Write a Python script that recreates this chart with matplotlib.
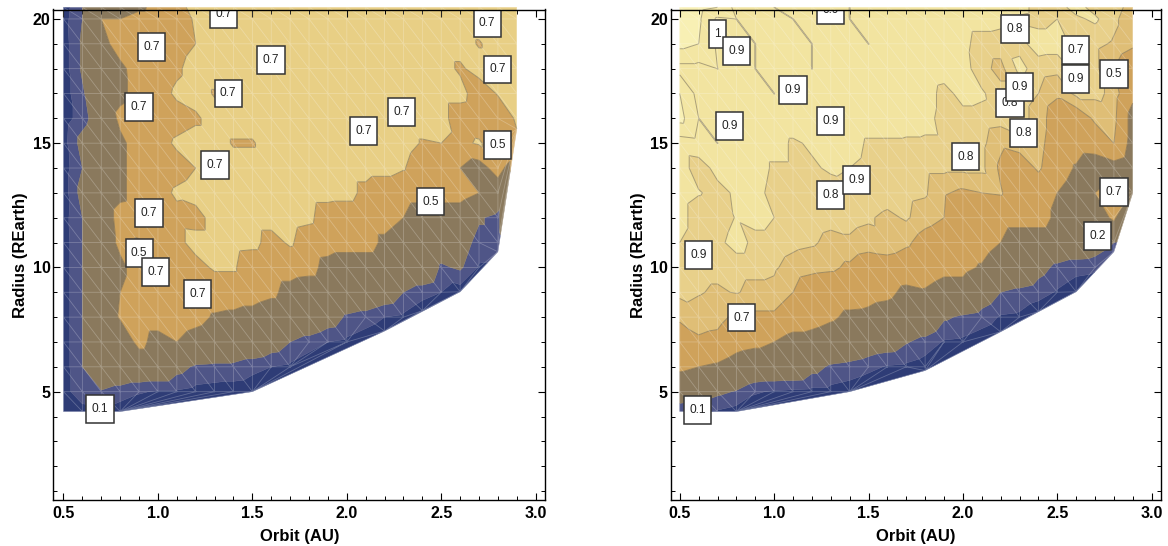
import matplotlib
matplotlib.use('Agg')
import matplotlib.pyplot as plt
import matplotlib.tri as mtri
from matplotlib.path import Path
import numpy as np

plt.rcParams['font.family'] = ['Liberation Sans', 'DejaVu Sans']

N = None

orbit = [0.5, 0.6, 0.7, 0.8, 0.9, 1.0, 1.1, 1.2, 1.3, 1.4, 1.5, 1.6, 1.7,
         1.8, 1.9, 2.0, 2.1, 2.2, 2.3, 2.4, 2.5, 2.6, 2.7, 2.8, 2.9]
radius = [20.47, 20, 19, 18, 17, 16, 15, 14, 13, 12, 11, 10, 9, 8, 7, 6, 5, 4.2]

# left panel, one row per radius
z_left = [
    [.05, .2, .35, .35, .45, .58, .65, .75, .75, .75, .75, .75, .75, .75, .75, .75, .75, .75, .75, .75, .75, .75, .75, .75, .75],
    [.06, .2, .5, .5, .6, .6, .62, .72, .75, .75, .75, .75, .75, .75, .75, .75, .75, .75, .75, .75, .75, .75, .75, .75, .75],
    [.05, .22, .42, .6, .6, .62, .65, .7, .75, .75, .75, .75, .75, .75, .75, .75, .75, .75, .75, .75, .75, .75, .69, .75, .75],
    [.05, .22, .35, .45, .6, .63, .68, .75, .75, .75, .75, .75, .75, .75, .75, .75, .75, .75, .75, .75, .75, .68, .75, .75, .75],
    [.05, .18, .35, .45, .58, .65, .72, .75, .69, .75, .75, .75, .75, .75, .75, .75, .75, .75, .75, .75, .75, .75, .62, .71, .75],
    [.05, .15, .3, .55, .6, .62, .65, .68, .75, .75, .75, .75, .75, .75, .75, .75, .75, .75, .75, .75, .75, .62, .6, .6, .72],
    [.06, .25, .35, .45, .6, .65, .72, .75, .75, .69, .69, .75, .75, .75, .75, .75, .75, .75, .75, .69, .7, .66, .72, .6, N],
    [.05, .2, .35, .45, .6, .62, .65, .7, .75, .75, .75, .75, .75, .75, .75, .75, .75, .75, .71, .62, .6, .5, .4, .6, N],
    [.05, .25, .35, .45, .6, .65, .72, .75, .75, .75, .75, .75, .75, .75, .75, .75, .66, .6, .6, .6, .6, .6, .5, .35, N],
    [.06, .2, .35, .58, .6, .62, .66, .65, .75, .75, .75, .75, .75, .73, .62, .6, .6, .6, .5, .35, .35, .35, .22, .15, N],
    [.05, .2, .35, .55, .48, .6, .66, .75, .75, .75, .74, .65, .72, .62, .6, .6, .6, .45, .35, .35, .3, .28, .15, .15, N],
    [.05, .2, .35, .45, .6, .6, .65, .65, .72, .72, .6, .6, .6, .58, .42, .35, .35, .35, .35, .35, .18, .22, .09, N, N],
    [.05, .2, .35, .5, .6, .6, .6, .6, .6, .6, .6, .55, .42, .35, .35, .35, .35, .3, .2, .14, .1, N, N, N, N],
    [.05, .2, .35, .52, .6, .6, .6, .56, .48, .46, .42, .35, .35, .35, .28, .18, .15, .1, .08, N, N, N, N, N, N],
    [.05, .2, .35, .35, .56, .42, .5, .42, .38, .35, .35, .28, .2, .15, .1, .08, N, N, N, N, N, N, N, N, N],
    [.05, .2, .35, .35, .35, .35, .25, .18, .17, .17, .13, .1, .08, N, N, N, N, N, N, N, N, N, N, N, N],
    [.05, .18, .19, .15, .11, .09, .09, .07, .06, .05, .04, N, N, N, N, N, N, N, N, N, N, N, N, N, N],
    [.05, .05, .06, .05, N, N, N, N, N, N, N, N, N, N, N, N, N, N, N, N, N, N, N, N, N],
]
# points on the lower right edge that are off the regular grid
edge_left_x = [2.2, 2.4, 2.6, 2.8, 2.9]
edge_left_y = [7.44, 8.26, 9.02, 10.63, 15.57]
edge_left_z = [.05, .05, .05, .12, .7]

z_right = [
    [.98, .98, .96, .88, .88, .9005, .88, .88, .88, .9005, .88, .88, .88, .88, .88, .88, .88, .88, .86, .82, .82, .86, .82, .82, .74],
    [.98, .97, .89, .9005, .88, .88, .9005, .88, .87, .9005, .88, .88, .88, .88, .88, .87, .87, .86, .83, .82, .84, .83, .85, .8, .72],
    [.98, .96, .89, .88, .9005, .88, .88, .9005, .88, .88, .9005, .88, .88, .88, .87, .86, .81, .81, .82, .87, .87, .82, .8, .77, .72],
    [.88, .88, .9005, .88, .9005, .88, .88, .9005, .88, .88, .88, .88, .88, .88, .87, .87, .8, .76, .86, .81, .8, .86, .8, .7, .6],
    [.96, .88, .88, .88, .88, .9005, .88, .88, .88, .88, .88, .88, .87, .87, .82, .86, .85, .8, .8, .78, .72, .8, .8, .76, .55],
    [.98, .9005, .88, .88, .88, .88, .88, .88, .88, .88, .88, .88, .87, .86, .82, .82, .82, .81, .8, .76, .62, .62, .72, .74, .42],
    [.87, .88, .9005, .88, .87, .87, .83, .85, .87, .87, .83, .83, .83, .83, .83, .8, .8, .72, .75, .74, .62, .6, .62, .7, .42],
    [.87, .81, .86, .87, .87, .83, .83, .83, .85, .84, .82, .82, .8, .8, .8, .8, .8, .68, .62, .72, .6, .48, .35, .42, .35],
    [.87, .845, .82, .85, .86, .82, .82, .81, .81, .82, .84, .82, .8, .79, .71, .68, .7, .71, .62, .6, .5, .4, .5, .6, .45],
    [.87, .8, .8, .845, .86, .84, .81, .81, .8, .8, .79, .76, .79, .74, .7, .6, .6, .6, .6, .6, .45, .35, .35, .55, N],
    [.84, .8, .82, .87, .82, .82, .8, .79, .76, .77, .75, .76, .72, .65, .62, .6, .6, .5, .35, .35, .35, .35, .3, .2, N],
    [.81, .8, .8, .8, .8, .79, .75, .73, .72, .68, .62, .64, .62, .6, .55, .55, .48, .35, .35, .25, .17, .13, .12, N, N],
    [.8, .785, .77, .785, .76, .76, .7, .62, .6, .6, .57, .55, .45, .48, .42, .42, .3, .2, .17, .14, .09, N, N, N, N],
    [.72, .75, .74, .67, .68, .68, .62, .58, .53, .46, .45, .4, .35, .35, .22, .18, .15, .09, .08, N, N, N, N, N, N],
    [.62, .68, .66, .58, .55, .5, .42, .42, .38, .35, .3, .28, .21, .16, .09, .08, N, N, N, N, N, N, N, N, N],
    [.55, .5, .47, .4, .35, .35, .35, .25, .18, .16, .13, .09, .08, .05, N, N, N, N, N, N, N, N, N, N, N],
    [.3, .28, .23, .19, .11, .09, .08, .07, .07, .05, N, N, N, N, N, N, N, N, N, N, N, N, N, N, N],
    [.13, .11, .09, .06, N, N, N, N, N, N, N, N, N, N, N, N, N, N, N, N, N, N, N, N, N],
]
edge_right_x = [1.8, 2.2, 2.4, 2.6, 2.8]
edge_right_y = [5.85, 7.41, 8.22, 9.02, 10.63]
edge_right_z = [.04, .05, .05, .05, .15]

levels_left = [0, .1, .2, .5, .7, 1.01]
colors_left = ['#2e3c76', '#4f5587', '#8a795d', '#cfa25b', '#e8cf85']
levels_right = [0, .1, .2, .5, .7, .78, .84, .9, .96, 1.01]
colors_right = ['#2e3c76', '#4f5587', '#8a795d', '#cfa25b', '#dfbe76', '#e8d08a',
                '#f2e4a0', '#f3e6a3', '#f8f0b4']

labels_left = ['0.7', '0.7', '0.7', '0.7', '0.7', '0.7', '0.7', '0.5', '0.7', '0.7',
               '0.1', '0.7', '0.7', '0.7', '0.7', '0.5', '0.5']
labels_left_x = [1.346, .967, 1.598, 1.372, .9, 1.302, .953, .901, .988, 1.21,
                 .693, 2.743, 2.798, 2.29, 2.09, 2.798, 2.444]
labels_left_y = [20.2, 18.88, 18.35, 17.0, 16.47, 14.12, 12.2, 10.59, 9.82, 8.93,
                 4.29, 19.85, 17.97, 16.27, 15.5, 14.93, 12.65]

labels_right = ['1', '0.9', '0.9', '0.9', '0.9', '0.9', '0.8', '0.9', '0.9', '0.7',
                '0.1', '0.8', '0.7', '0.9', '0.5', '0.8', '0.9', '0.8', '0.8', '0.7', '0.2']
labels_right_x = [.70, .80, 1.30, 1.10, 1.30, .763, 1.30, 1.437, .60, .828,
                  .593, 2.276, 2.597, 2.597, 2.80, 2.25, 2.30, 2.32, 2.015, 2.80, 2.714]
labels_right_y = [19.39, 18.71, 20.36, 17.14, 15.9, 15.69, 12.92, 13.52, 10.5, 7.98,
                  4.26, 19.6, 18.75, 17.58, 17.78, 16.63, 17.27, 15.4, 14.46, 13.05, 11.27]


# label box, wider padding up and down than left and right
def label_box(x0, y0, width, height, mutation_size):
    px = 0.45 * mutation_size
    py = 0.66 * mutation_size
    x1, y1 = x0 + width + px, y0 + height + py
    x0, y0 = x0 - px, y0 - py
    return Path([(x0, y0), (x1, y0), (x1, y1), (x0, y1), (x0, y0)], closed=True)


def draw_panel(ax, rows, ex, ey, ez, levels, colors, lab, lab_x, lab_y, xlim):
    xs, ys, zs = list(ex), list(ey), list(ez)
    for r, row in zip(radius, rows):
        for o, v in zip(orbit, row):
            if v is not None:
                xs.append(o)
                ys.append(r)
                zs.append(v)
    xs = np.array(xs)
    ys = np.array(ys)
    zs = np.array(zs)

    # the slant makes the grid cells split along the same diagonal as the original
    slanted = mtri.Triangulation(xs * 10 + 0.05 * ys, ys)
    tri = mtri.Triangulation(xs, ys, slanted.triangles)

    fill = ax.tricontourf(tri, zs, levels=levels, colors=colors, antialiased=True, zorder=1)
    fill.set_edgecolor('face')
    fill.set_linewidth(0.3)
    fill.set_clip_on(False)
    lines = ax.tricontour(tri, zs, levels=[l for l in levels[3:-1]], colors='#6e6450',
                          linewidths=0.7, alpha=0.55, zorder=2)
    lines.set_clip_on(False)
    mesh = ax.triplot(tri, color='white', lw=0.6, alpha=0.24, zorder=3)
    for m in mesh:
        m.set_clip_on(False)

    for t, x, y in zip(lab, lab_x, lab_y):
        ax.text(x, y, t, fontsize=8.6, ha='center', va='center', color='#222222', zorder=5,
                clip_on=True,
                bbox=dict(boxstyle=label_box, fc='white', ec='#333333', lw=1.1))

    ax.set_xlim(*xlim)
    ax.set_ylim(0.64, 20.38)
    ax.set_xticks([0.5, 1.0, 1.5, 2.0, 2.5, 3.0])
    ax.set_xticks(np.arange(0.5, 3.01, 0.1), minor=True)
    ax.set_yticks([5, 10, 15, 20])
    ax.set_yticks(np.arange(1, 21), minor=True)
    ax.tick_params(which='major', direction='in', length=5, width=0.8, top=True, right=True,
                   labelsize=11.5)
    ax.tick_params(axis='x', which='major', pad=4)
    ax.tick_params(axis='y', which='major', pad=2)
    ax.tick_params(which='minor', direction='in', length=3, width=0.7, top=True, right=True)
    for lab_ in ax.get_xticklabels() + ax.get_yticklabels():
        lab_.set_fontweight('bold')
    for s in ax.spines.values():
        s.set_linewidth(1.0)
        s.set_zorder(6)
    ax.set_xlabel('Orbit (AU)', fontsize=12, fontweight='bold', labelpad=6)
    ax.set_ylabel('Radius (REarth)', fontsize=12, fontweight='bold', labelpad=3)


W, H = 1168, 546
fig = plt.figure(figsize=(W / 100, H / 100), dpi=100)
ax1 = fig.add_axes([53.3 / W, 1 - 500 / H, (545.5 - 53.3) / W, (500 - 9.5) / H])
ax2 = fig.add_axes([670.7 / W, 1 - 500 / H, (1160.7 - 670.7) / W, (500 - 9.5) / H])

draw_panel(ax1, z_left, edge_left_x, edge_left_y, edge_left_z, levels_left, colors_left,
           labels_left, labels_left_x, labels_left_y, (0.446, 3.052))
draw_panel(ax2, z_right, edge_right_x, edge_right_y, edge_right_z, levels_right, colors_right,
           labels_right, labels_right_x, labels_right_y, (0.452, 3.048))

fig.savefig('out.png', dpi=100)
